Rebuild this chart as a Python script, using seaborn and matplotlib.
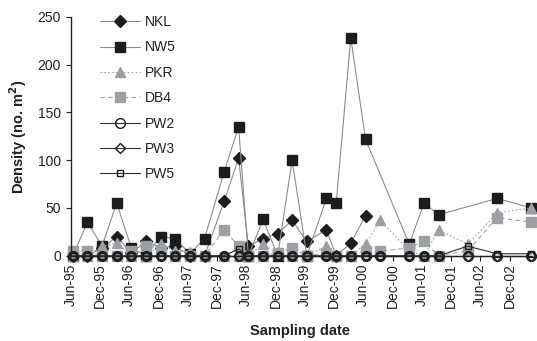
import numpy as np
import pandas as pd
import matplotlib
matplotlib.use("Agg")
import matplotlib.pyplot as plt
import matplotlib.dates as mdates
import seaborn as sns

FECHAS = [
    "1995-06-15", "1995-09-15", "1995-12-15", "1996-03-15", "1996-06-15",
    "1996-09-15", "1996-12-15", "1997-03-15", "1997-06-15", "1997-09-15",
    "1998-01-15", "1998-04-15", "1998-06-15", "1998-09-15", "1998-12-15",
    "1999-03-15", "1999-06-15", "1999-10-15", "1999-12-15", "2000-03-15",
    "2000-06-15", "2000-09-15", "2001-03-15", "2001-06-15", "2001-09-15",
    "2002-03-15", "2002-09-15", "2003-04-15",
]
nan = np.nan

NKL = [0, 0, 8, 20, 3, 15, 8, 10, 0, 0,
       57, 102, 10, 18, 23, 37, 15, 27, 0, 13,
       42, nan, nan, nan, nan, nan, nan, nan]
NW5 = [0, 35, 10, 55, 8, 0, 20, 18, 2, 18,
       88, 135, 0, 38, 0, 100, 0, 60, 55, 228,
       122, nan, 12, 55, 43, nan, 60, 50]
PKR = [0, 0, 10, 13, 0, 0, 12, 5, 4, 0,
       0, 0, 0, 12, 2, 0, 0, 10, 0, 0,
       12, 37, 5, 0, 27, 12, 45, 50]
DB4 = [5, 5, 0, 0, 5, 10, 5, 0, 0, 0,
       27, 10, 0, 0, 3, 8, 0, 3, 0, 0,
       5, 5, 8, 15, 0, 5, 40, 35]
PW2 = [0] * 28
PW3 = [0] * 28
PW5 = [0, 0, 0, 0, 0, 0, 0, 0, 0, 0,
       0, 7, 0, 0, 0, 0, 0, 0, 0, 0,
       0, 0, 0, 0, 0, 10, 2, 2]

SERIES = ["NKL", "NW5", "PKR", "DB4", "PW2", "PW3", "PW5"]
VALORES = [NKL, NW5, PKR, DB4, PW2, PW3, PW5]

NEGRO = "#1c1c1c"
GRIS = "#9ba0a5"
LINEA = "#8c8c8c"
ESTILOS = {
    "NKL": dict(marker="D", ms=6, mfc=NEGRO, mec=NEGRO, color=LINEA, ls="-"),
    "NW5": dict(marker="s", ms=7, mfc=NEGRO, mec=NEGRO, color=LINEA, ls="-"),
    "PKR": dict(marker="^", ms=7, mfc=GRIS, mec=GRIS, color=GRIS, ls=(0, (1.5, 2))),
    "DB4": dict(marker="s", ms=7, mfc=GRIS, mec=GRIS, color=GRIS, ls=(0, (4, 3))),
    "PW2": dict(marker="o", ms=7, mfc="none", mec=NEGRO, color="#303030", ls="-"),
    "PW3": dict(marker="D", ms=5, mfc="none", mec=NEGRO, color="#303030", ls="-"),
    "PW5": dict(marker="s", ms=5, mfc="none", mec=NEGRO, color="#303030", ls="-"),
}

sns.set_style("ticks")
plt.rcParams["font.family"] = ["Liberation Sans", "DejaVu Sans"]

fig, ax = plt.subplots(figsize=(5.37, 3.41), dpi=100)
fig.subplots_adjust(left=70.5 / 537, right=532 / 537,
                    top=1 - 17 / 341, bottom=1 - 255.7 / 341)

fechas = pd.to_datetime(FECHAS)
for nombre, vals in zip(SERIES, VALORES):
    df = pd.DataFrame({"fecha": fechas, "dens": vals}).dropna()
    est = ESTILOS[nombre]
    sns.lineplot(data=df, x="fecha", y="dens", ax=ax, estimator=None,
                 label=nombre, lw=0.8, mew=1.0, clip_on=False, **est)

ax.set_ylim(0, 250)
ax.set_yticks(range(0, 251, 50))
ax.set_xlim(pd.Timestamp("1995-06-01"), pd.Timestamp("2003-04-20"))
ax.xaxis.set_major_locator(mdates.MonthLocator(bymonth=[6, 12], bymonthday=1))
ax.xaxis.set_major_formatter(mdates.DateFormatter("%b-%y"))
plt.setp(ax.get_xticklabels(), rotation=90, ha="center", va="top")
ax.tick_params(axis="both", labelsize=10, direction="out", length=3.5,
               width=0.8, color="#222222", labelcolor="#222222")
ax.tick_params(axis="x", pad=2)

for lado in ["top", "right"]:
    ax.spines[lado].set_visible(False)
for lado in ["left", "bottom"]:
    ax.spines[lado].set_linewidth(1.0)
    ax.spines[lado].set_color("#222222")

ax.set_xlabel("Sampling date", fontsize=10.5, fontweight="bold",
              color="#222222", va="center")
ax.set_ylabel("Density (no. m$^{\\mathbf{2}}$)", fontsize=10.5,
              fontweight="bold", color="#222222", va="center")
ax.yaxis.set_label_coords(-0.114, 0.5)
ax.xaxis.set_label_coords(0.497, -0.315)

leg = ax.legend(loc="upper left", bbox_to_anchor=(100 / 537, 1 - 15 / 341),
                bbox_transform=fig.transFigure, frameon=False, fontsize=10,
                handlelength=2.9, handletextpad=0.35, labelspacing=0.82,
                borderpad=0, borderaxespad=0)
for t in leg.get_texts():
    t.set_color("#222222")

fig.savefig("out.png", dpi=100)
